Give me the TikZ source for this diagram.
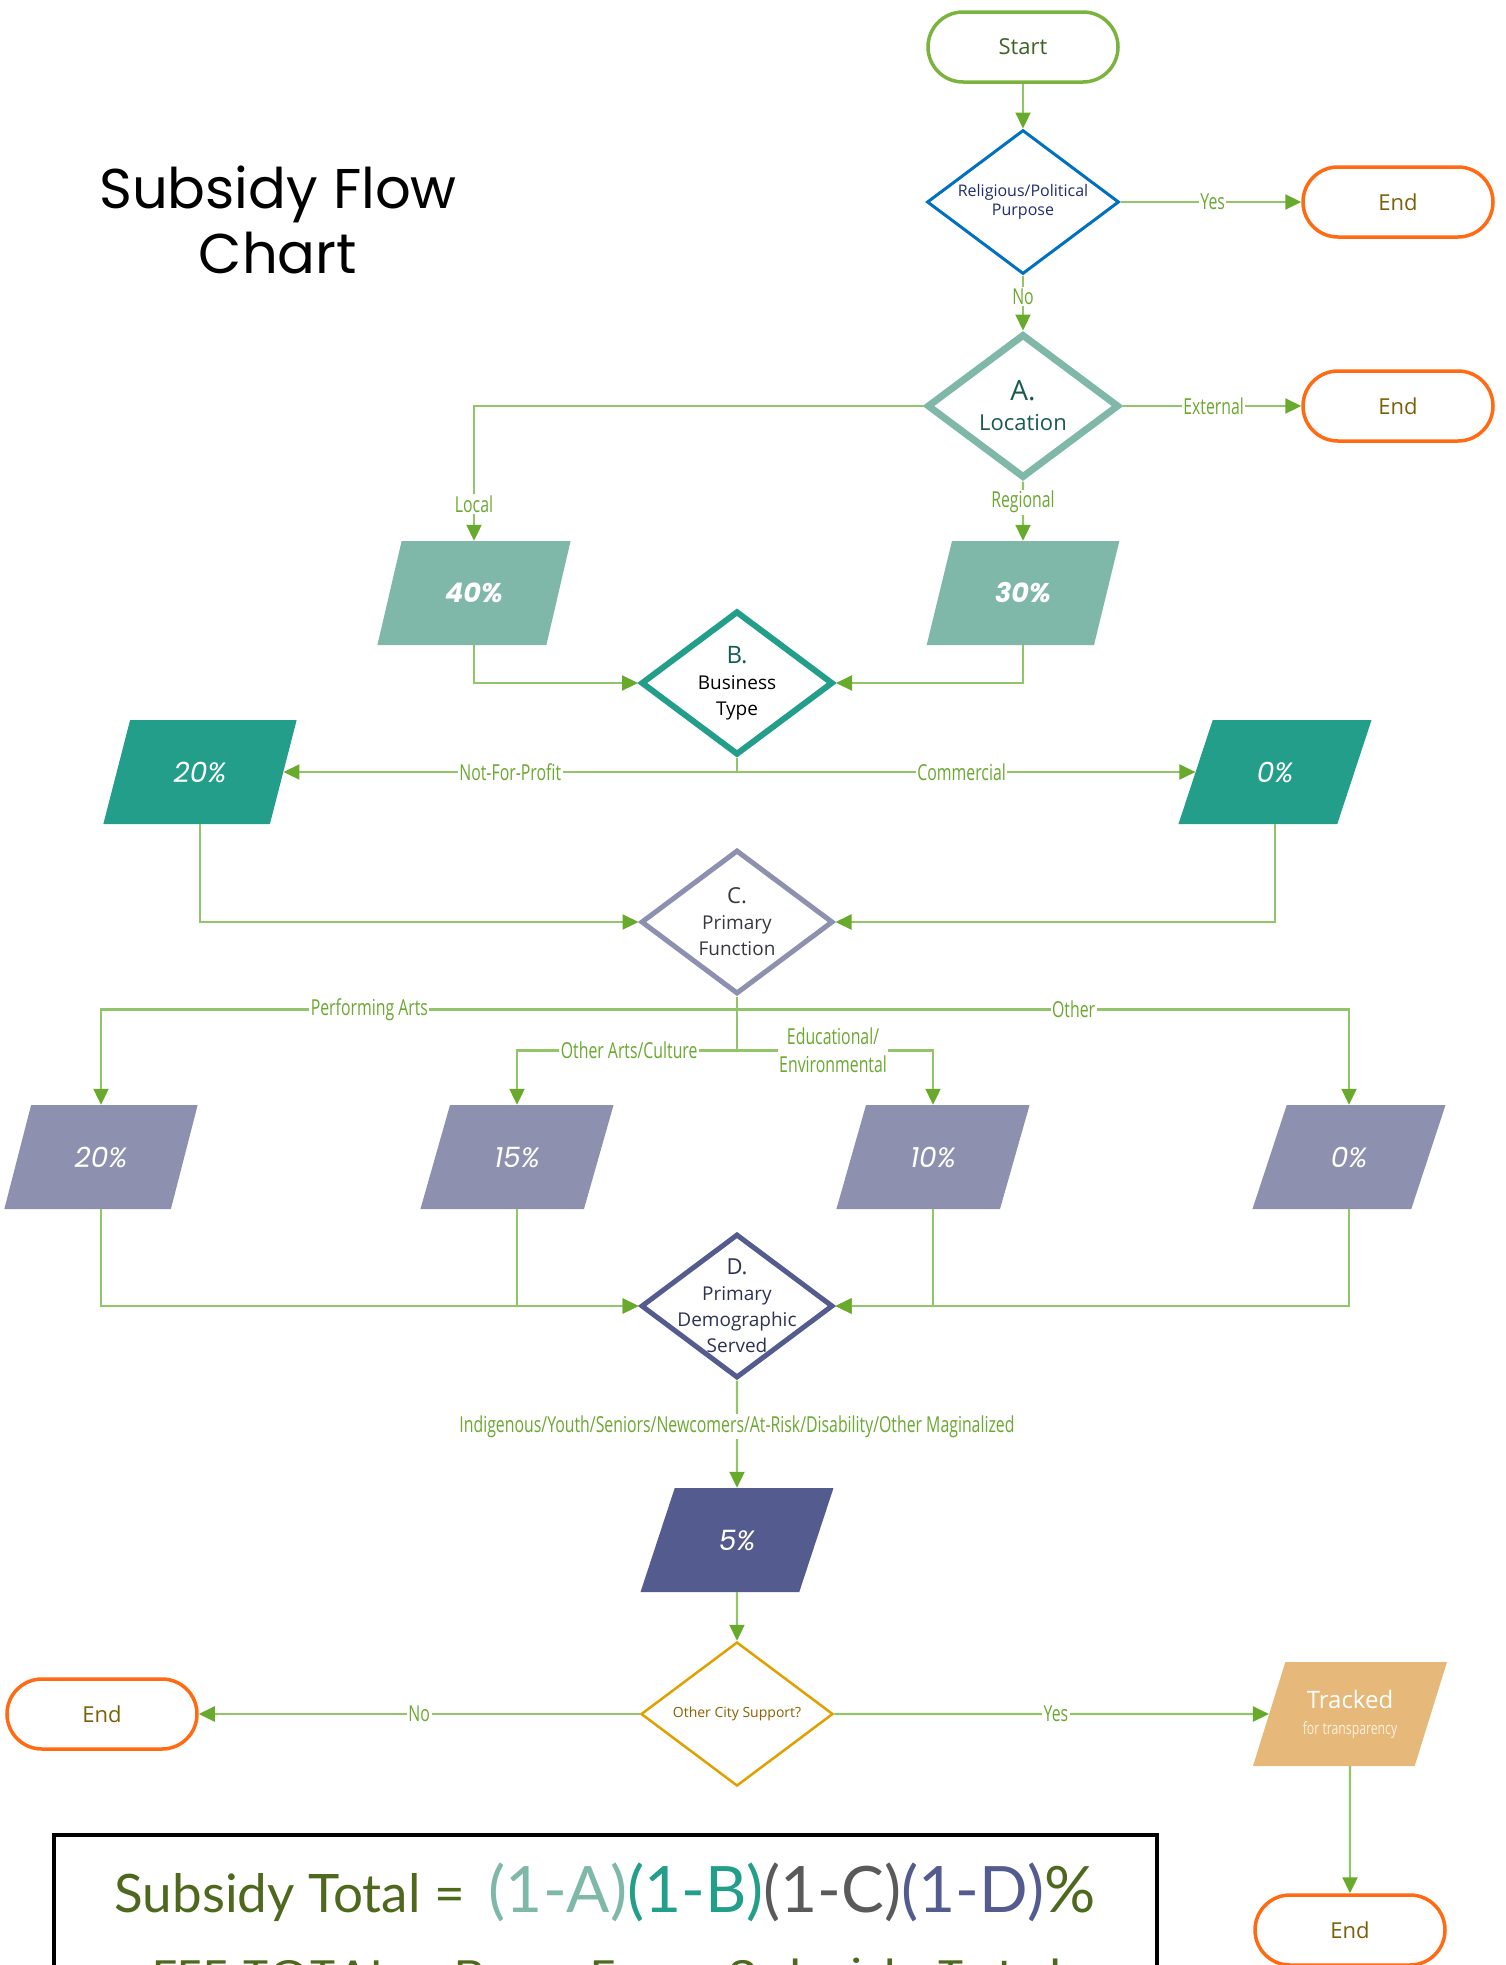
\documentclass[tikz,border=0pt]{standalone}
\usepackage{fontspec}
\setmainfont{Open Sans}
\newfontfamily\condfont[FakeStretch=0.72]{Open Sans}
\newfontfamily\titlefont{Poppins}
\newfontfamily\pctfont{Poppins}
\newfontfamily\feefont[FakeStretch=1.14]{Poppins}
\newfontfamily\formulafont{Lato}
\usetikzlibrary{shapes.geometric, arrows.meta}
\definecolor{linkgreen}{RGB}{146, 196, 105}
\definecolor{tipgreen}{RGB}{104, 170, 44}
\definecolor{labelgreen}{RGB}{106, 168, 48}
\definecolor{startgreen}{RGB}{122, 180, 62}
\definecolor{starttext}{RGB}{60, 100, 35}
\definecolor{endorange}{RGB}{255, 106, 19}
\definecolor{endtext}{RGB}{122, 96, 8}
\definecolor{qblue}{RGB}{0, 112, 192}
\definecolor{qbluetext}{RGB}{31, 44, 110}
\definecolor{sagefill}{RGB}{127, 184, 169}
\definecolor{sagetext}{RGB}{23, 90, 78}
\definecolor{tealfill}{RGB}{34, 158, 139}
\definecolor{tealtext}{RGB}{20, 95, 85}
\definecolor{lavfill}{RGB}{142, 144, 175}
\definecolor{lavtext}{RGB}{55, 55, 65}
\definecolor{navyfill}{RGB}{83, 91, 143}
\definecolor{navytext}{RGB}{45, 50, 85}
\definecolor{goldline}{RGB}{224, 161, 0}
\definecolor{goldtext}{RGB}{138, 96, 0}
\definecolor{trackfill}{RGB}{230, 185, 122}
\definecolor{trackfaint}{RGB}{255, 240, 220}
\definecolor{formulagreen}{RGB}{78, 104, 30}
\definecolor{formulagray}{RGB}{90, 90, 90}
\newcommand{\setpx}[2]{\fontsize{#1}{#2}\selectfont}

\begin{document}
\begin{tikzpicture}[x=1pt, y=-1pt,
  terminal/.style={draw=startgreen, line width=3.5pt, rounded corners=35pt,
    minimum width=190pt, minimum height=70pt, text=starttext, font=\setpx{22}{26}},
  endbox/.style={terminal, draw=endorange, text=endtext},
  decision/.style={diamond, aspect=1.33, minimum width=192pt, minimum height=144pt,
    inner sep=0pt, align=center, font=\setpx{19}{26}},
  databox/.style={trapezium, trapezium left angle=64, trapezium right angle=116,
    trapezium stretches=true, minimum width=194pt, minimum height=104pt,
    inner sep=0pt, align=center, text=white, font=\pctfont\itshape\setpx{28}{30}},
  flowlink/.style={draw=linkgreen, line width=2.2pt,
    -{Triangle[length=16pt, width=15pt, color=tipgreen]}},
  linklabel/.style={fill=white, text=labelgreen, inner sep=1.5pt,
    font=\condfont\setpx{22}{28}, align=center}]

  \clip (0, 0) rectangle (1506, 1965);

  % Title
  \node[font=\titlefont\setpx{56}{65}, align=center] (title) at (278, 220) {Subsidy Flow\\Chart};

  % Start and purpose check
  \node[terminal] (start) at (1023, 47) {Start};
  \node[decision, draw=qblue, line width=3pt, text=qbluetext, font=\setpx{16}{19}] (q0) at (1023, 202) {Religious/Political\\Purpose};
  \node[endbox] (end1) at (1398, 202) {End};
  \draw[flowlink] (start.south) -- (q0.north);
  \draw[flowlink] (q0.east) -- node[linklabel, pos=0.51] {Yes} (end1.west);

  % A. Location
  \node[decision, draw=sagefill, line width=7pt, text=sagetext, font=\setpx{22}{30}] (qa) at (1023, 406) {{\setpx{28}{30}A.}\\Location};
  \node[endbox] (end2) at (1398, 406) {End};
  \draw[flowlink] (q0.south) -- node[linklabel, pos=0.38] {No} (qa.north);
  \draw[flowlink] (qa.east) -- node[linklabel, pos=0.51] {External} (end2.west);

  \node[databox, fill=sagefill, font=\pctfont\bfseries\itshape\setpx{27}{30}] (a40) at (474, 593) {40\%};
  \node[databox, fill=sagefill, font=\pctfont\bfseries\itshape\setpx{27}{30}] (a30) at (1023, 593) {30\%};
  \draw[flowlink] (qa.west) -| node[linklabel, pos=0.863] {Local} (a40.north);
  \draw[flowlink] (qa.south) -- node[linklabel, pos=0.35] {Regional} (a30.north);

  % B. Business type
  \node[decision, draw=tealfill, line width=6pt] (qb) at (737, 683) {{\color{tealtext}\setpx{24}{28}B.}\\Business\\Type};
  \draw[flowlink] (a40.south) |- (qb.west);
  \draw[flowlink] (a30.south) |- (qb.east);

  \node[databox, fill=tealfill] (b20) at (200, 772) {20\%};
  \node[databox, fill=tealfill] (b0) at (1275, 772) {0\%};
  \draw[flowlink] (qb.south) |- node[linklabel, pos=0.75] {Not-For-Profit} (b20.east);
  \draw[flowlink] (qb.south) |- node[linklabel, pos=0.745] {Commercial} (b0.west);

  % C. Primary function
  \node[decision, draw=lavfill, line width=5pt, text=lavtext] (qc) at (737, 922) {{\setpx{22}{26}C.}\\Primary\\Function};
  \draw[flowlink] (b20.south) |- (qc.west);
  \draw[flowlink] (b0.south) |- (qc.east);

  \node[databox, fill=lavfill] (c20) at (101, 1157) {20\%};
  \node[databox, fill=lavfill] (c15) at (517, 1157) {15\%};
  \node[databox, fill=lavfill] (c10) at (933, 1157) {10\%};
  \node[databox, fill=lavfill] (c0) at (1349, 1157) {0\%};
  \draw[flowlink] (qc.south) -- ++(0, 13) -| node[linklabel, pos=0.289] {Performing Arts} (c20.north);
  \draw[flowlink] (qc.south) -- ++(0, 13) -| node[linklabel, pos=0.275] {Other} (c0.north);
  \draw[flowlink] (qc.south) -- ++(0, 54) -| node[linklabel, pos=0.245] {Other Arts/Culture} (c15.north);
  \draw[flowlink] (qc.south) -- ++(0, 54) -| node[linklabel, pos=0.245] {Educational/\\Environmental} (c10.north);

  % D. Primary demographic (text runs over the outline)
  \node[decision, draw=navyfill, line width=5pt,
    label={[text=navytext, align=center, font=\setpx{19}{26}]center:{{\setpx{22}{26}D.}\\Primary\\Demographic\\Served}}] (qd) at (737, 1306) {};
  \draw[flowlink] (c20.south) |- (qd.west);
  \draw[flowlink] (c15.south) |- (qd.west);
  \draw[flowlink] (c10.south) |- (qd.east);
  \draw[flowlink] (c0.south) |- (qd.east);

  \node[databox, fill=navyfill] (d5) at (737, 1540) {5\%};
  \draw[flowlink] (qd.south) -- node[linklabel, pos=0.43] {Indigenous/Youth/Seniors/Newcomers/At-Risk/Disability/Other Maginalized} (d5.north);

  % Other city support
  \node[decision, draw=goldline, line width=2.5pt, text=goldtext, font=\setpx{14}{17}] (qe) at (737, 1714) {Other City Support?};
  \draw[flowlink] (d5.south) -- (qe.north);
  \node[endbox] (end3) at (102, 1714) {End};
  \node[databox, fill=trackfill, font=\setpx{24}{26}] (track) at (1350, 1714) {Tracked\\{\condfont\setpx{17}{20}\color{trackfaint}for transparency}};
  \node[endbox] (end4) at (1350, 1930) {End};
  \draw[flowlink] (qe.west) -- node[linklabel, pos=0.5] {No} (end3.east);
  \draw[flowlink] (qe.east) -- node[linklabel, pos=0.51] {Yes} (track.west);
  \draw[flowlink] (track.south) -- (end4.north);

  % Formula box
  \draw[line width=4pt] (54, 1835) rectangle (1157, 2010);
  \node[anchor=base, font=\formulafont, text=formulagreen] (formula) at (605, 1912) {{\setpx{53}{56}Subsidy Total =}\hspace{24pt}{\setpx{64}{68}\textcolor{sagefill}{(1-A)}\textcolor{tealfill}{(1-B)}\textcolor{formulagray}{(1-C)}\textcolor{navyfill}{(1-D)}\%}};
  \node[anchor=base, font=\feefont\setpx{44}{48}, text=formulagreen] (fee) at (607, 1991) {FEE TOTAL = Base Fee x Subsidy Total};
\end{tikzpicture}
\end{document}
